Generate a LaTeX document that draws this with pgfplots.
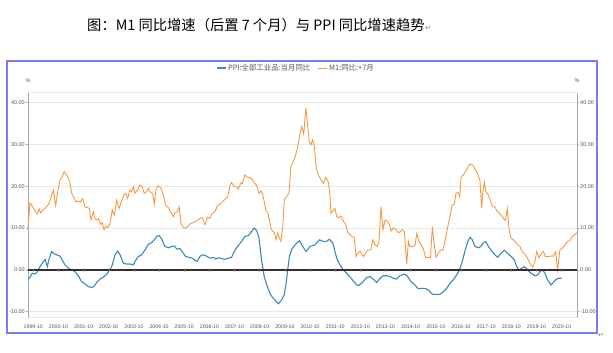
\documentclass[border=0pt]{standalone}
\usepackage{fontspec}
\setmainfont{Liberation Sans}
\newfontfamily\cjk{Noto Sans CJK SC}
\newfontfamily\dejavu{DejaVu Sans}
\usepackage{pgfplots}
\pgfplotsset{compat=1.18}
\definecolor{ppiblue}{HTML}{3A8BBA}
\definecolor{m1orange}{HTML}{F7963C}
\definecolor{framec}{HTML}{7B7BF7}
\definecolor{gridc}{HTML}{E8E8E8}
\definecolor{zeroc}{HTML}{3A2C2C}
\definecolor{labc}{HTML}{585858}
\definecolor{axc}{HTML}{A8A8A8}
\begin{document}
\begin{tikzpicture}
\useasboundingbox (0pt,0pt) rectangle (613pt,353pt);
\fill[white] (0pt,0pt) rectangle (613pt,353pt);
\node[anchor=west, inner sep=0pt, font=\cjk\fontsize{14.3}{16}\selectfont] (title) at (87pt,328pt) {图：M1 同比增速（后置 7 个月）与 PPI 同比增速趋势};
\node[anchor=west, inner sep=0pt, text=gray, font=\dejavu\fontsize{7}{8}\selectfont] at ([yshift=-3pt]title.east) {↵};
\draw[framec, line width=2pt] (7pt,20pt) rectangle (597pt,292pt);
\node[anchor=west, inner sep=0pt, text=gray, font=\dejavu\fontsize{7}{8}\selectfont] at (598pt,18pt) {↵};
\node[inner sep=0pt, text=labc, font=\fontsize{5.5}{6}\selectfont] at (28pt,272pt) {\%};
\node[inner sep=0pt, text=labc, font=\fontsize{5.5}{6}\selectfont] at (577pt,272pt) {\%};
\begin{axis}[
  at={(28pt,35pt)}, anchor=south west,
  width=549pt, height=225pt, scale only axis,
  xmin=1999.54, xmax=2021.36, ymin=-11.5, ymax=42.3,
  separate axis lines,
  x axis line style={draw=gridc, line width=1pt},
  y axis line style={draw=axc, line width=0.8pt},
  ytick={-10,0,10,20,30,40},
  ytick pos=left,
  tick align=outside, major tick length=2pt,
  ytick style={draw=axc, line width=0.5pt},
  xtick style={draw=none},
  /pgf/number format/assume math mode=true,
  yticklabel={\pgfmathprintnumber[fixed,fixed zerofill,precision=2]{\tick}},
  yticklabel style={font=\fontsize{5.5}{6}\selectfont, text=labc, inner sep=1pt},
  xtick={1999.75,2000.75,2001.75,2002.75,2003.75,2004.75,2005.75,2006.75,2007.75,2008.75,2009.75,2010.75,2011.75,2012.75,2013.75,2014.75,2015.75,2016.75,2017.75,2018.75,2019.75,2020.75},
  xticklabels={1999-10,2000-10,2001-10,2002-10,2003-10,2004-10,2005-10,2006-10,2007-10,2008-10,2009-10,2010-10,2011-10,2012-10,2013-10,2014-10,2015-10,2016-10,2017-10,2018-10,2019-10,2020-10},
  xticklabel style={font=\fontsize{5.2}{6}\selectfont, text=labc, inner sep=1pt, yshift=-3.5pt},
  ymajorgrids, major grid style={gridc, line width=1.1pt},
  legend columns=2,
  legend style={at={(0.488,1.111)}, anchor=center, draw=none, fill=none,
    font=\cjk\fontsize{7.4}{8}\selectfont, text=labc, inner sep=0pt,
    /tikz/every even column/.append style={column sep=5pt}},
  legend image code/.code={\draw[#1] (0pt,0pt) -- (9pt,0pt);},
  clip=false,
]
\addplot[ppiblue, line width=1.1pt] coordinates {
(1999.55,-2.2) (1999.62,-1.8) (1999.71,-0.8) (1999.82,-1.0) (1999.92,-0.4) (2000.02,0.8) (2000.11,1.6) (2000.22,2.5) (2000.31,0.8) (2000.37,2.4) (2000.48,4.4) (2000.59,3.8) (2000.68,3.6) (2000.81,3.3) (2000.90,2.4) (2001.01,1.2) (2001.14,0.4) (2001.28,0.0) (2001.41,-0.4) (2001.54,-1.4) (2001.67,-2.8) (2001.81,-3.4) (2001.94,-4.0) (2002.07,-4.2) (2002.16,-4.0) (2002.27,-3.0) (2002.40,-2.2) (2002.53,-1.8) (2002.67,-1.0) (2002.80,0.0) (2002.89,1.2) (2003.00,3.6) (2003.10,4.5) (2003.20,3.6) (2003.33,1.6) (2003.46,1.4) (2003.59,1.4) (2003.73,1.2) (2003.79,2.0) (2003.92,3.2) (2004.06,3.6) (2004.19,4.8) (2004.32,6.1) (2004.45,6.5) (2004.56,7.2) (2004.65,8.0) (2004.75,8.2) (2004.85,7.4) (2004.98,5.6) (2005.12,5.3) (2005.25,5.6) (2005.36,5.7) (2005.45,5.0) (2005.58,5.1) (2005.71,4.0) (2005.81,3.2) (2005.94,3.0) (2006.07,2.8) (2006.15,2.4) (2006.26,2.0) (2006.38,3.3) (2006.51,3.6) (2006.64,3.3) (2006.77,2.8) (2006.91,3.0) (2007.00,2.6) (2007.11,2.9) (2007.21,2.8) (2007.34,2.5) (2007.50,2.8) (2007.63,3.0) (2007.77,4.8) (2007.90,5.8) (2008.03,6.8) (2008.16,8.0) (2008.30,8.2) (2008.43,9.2) (2008.53,10.0) (2008.63,9.4) (2008.72,7.6) (2008.83,2.0) (2008.93,-1.6) (2009.03,-3.6) (2009.12,-5.0) (2009.19,-6.0) (2009.32,-7.0) (2009.49,-8.1) (2009.62,-7.2) (2009.72,-6.0) (2009.80,-3.2) (2009.86,0.0) (2009.93,3.2) (2010.02,4.9) (2010.15,6.0) (2010.33,7.0) (2010.46,5.6) (2010.59,4.4) (2010.75,5.6) (2010.95,6.0) (2011.12,7.2) (2011.28,6.8) (2011.39,6.8) (2011.52,7.3) (2011.65,6.5) (2011.81,2.8) (2011.94,1.2) (2012.07,0.0) (2012.21,-0.8) (2012.41,-2.2) (2012.60,-3.6) (2012.69,-3.7) (2012.83,-3.0) (2013.00,-1.8) (2013.13,-1.6) (2013.26,-2.2) (2013.40,-3.0) (2013.53,-2.0) (2013.66,-1.4) (2013.79,-1.4) (2013.93,-1.6) (2014.06,-2.0) (2014.19,-2.2) (2014.32,-1.4) (2014.50,-1.0) (2014.63,-1.6) (2014.76,-2.8) (2014.92,-3.6) (2015.05,-4.5) (2015.19,-4.4) (2015.32,-4.4) (2015.45,-4.8) (2015.61,-5.8) (2015.78,-5.9) (2015.92,-5.8) (2016.05,-5.2) (2016.18,-4.4) (2016.31,-3.2) (2016.44,-2.4) (2016.58,-1.2) (2016.71,0.4) (2016.80,2.0) (2016.91,4.6) (2017.01,6.6) (2017.11,7.8) (2017.20,7.2) (2017.31,5.6) (2017.44,5.3) (2017.54,5.6) (2017.64,6.5) (2017.73,6.8) (2017.84,5.6) (2017.97,4.5) (2018.10,3.6) (2018.21,3.0) (2018.34,4.0) (2018.47,4.7) (2018.60,4.0) (2018.74,3.2) (2018.87,2.4) (2018.96,0.8) (2019.05,0.0) (2019.16,0.4) (2019.27,0.8) (2019.40,0.0) (2019.53,-0.8) (2019.69,-1.4) (2019.80,-1.2) (2019.89,-0.4) (2019.99,0.0) (2020.09,-0.8) (2020.19,-2.4) (2020.33,-3.6) (2020.42,-3.0) (2020.51,-2.4) (2020.62,-2.0) (2020.75,-2.0)
};
\addlegendentry{PPI:全部工业品:当月同比}
\addplot[m1orange, line width=0.85pt] coordinates {
(1999.54,10.0) (1999.62,16.0) (1999.71,15.2) (1999.82,14.0) (1999.91,13.4) (1999.98,14.6) (2000.04,13.6) (2000.15,14.4) (2000.25,14.9) (2000.37,15.8) (2000.45,17.3) (2000.55,19.1) (2000.64,15.4) (2000.72,18.7) (2000.81,21.5) (2000.90,22.3) (2000.98,23.5) (2001.08,22.7) (2001.18,21.5) (2001.28,18.3) (2001.37,17.1) (2001.45,16.2) (2001.54,16.5) (2001.63,16.2) (2001.71,17.1) (2001.81,15.0) (2001.90,14.9) (2001.98,14.7) (2002.04,11.9) (2002.14,13.9) (2002.20,12.3) (2002.27,11.9) (2002.34,12.3) (2002.43,10.9) (2002.49,11.3) (2002.56,9.6) (2002.63,10.5) (2002.71,10.1) (2002.80,11.1) (2002.89,14.3) (2002.97,13.1) (2003.06,16.7) (2003.16,14.7) (2003.26,16.5) (2003.36,18.1) (2003.43,18.3) (2003.50,17.1) (2003.59,19.1) (2003.66,18.7) (2003.73,19.9) (2003.79,18.3) (2003.89,19.1) (2003.99,20.3) (2004.08,19.9) (2004.16,18.3) (2004.26,18.7) (2004.32,19.5) (2004.41,18.5) (2004.49,18.3) (2004.56,15.7) (2004.63,19.5) (2004.72,20.1) (2004.83,19.5) (2004.92,17.9) (2005.01,15.5) (2005.12,14.9) (2005.21,13.9) (2005.32,12.7) (2005.38,13.7) (2005.47,13.9) (2005.55,15.1) (2005.62,11.1) (2005.71,10.1) (2005.81,10.0) (2005.91,10.5) (2006.00,11.1) (2006.11,11.3) (2006.24,11.7) (2006.38,12.3) (2006.47,12.5) (2006.57,10.8) (2006.68,12.6) (2006.77,12.3) (2006.87,13.6) (2006.97,13.9) (2007.08,15.5) (2007.21,15.9) (2007.34,16.7) (2007.48,17.5) (2007.57,20.3) (2007.63,20.9) (2007.73,19.9) (2007.83,19.9) (2007.90,19.3) (2008.01,20.9) (2008.07,20.7) (2008.16,22.7) (2008.26,22.1) (2008.36,22.1) (2008.46,21.5) (2008.56,20.7) (2008.65,19.9) (2008.72,18.3) (2008.80,18.9) (2008.87,18.1) (2008.93,16.3) (2008.99,14.3) (2009.07,13.7) (2009.13,11.9) (2009.20,10.0) (2009.26,9.2) (2009.33,9.0) (2009.40,7.2) (2009.46,8.8) (2009.53,7.6) (2009.59,6.8) (2009.66,10.0) (2009.73,16.8) (2009.82,17.5) (2009.91,18.3) (2009.99,24.7) (2010.09,25.9) (2010.18,27.5) (2010.26,29.5) (2010.35,32.5) (2010.42,34.3) (2010.50,32.5) (2010.58,38.7) (2010.64,35.5) (2010.72,30.7) (2010.79,29.9) (2010.85,31.1) (2010.92,29.5) (2010.99,24.7) (2011.08,22.7) (2011.19,21.5) (2011.28,20.7) (2011.37,22.1) (2011.48,21.0) (2011.54,17.9) (2011.58,13.5) (2011.68,14.3) (2011.74,14.7) (2011.81,12.7) (2011.90,12.5) (2011.98,12.9) (2012.07,11.7) (2012.17,10.8) (2012.25,9.0) (2012.34,8.4) (2012.43,8.0) (2012.51,7.7) (2012.58,3.2) (2012.64,4.0) (2012.74,4.5) (2012.87,3.2) (2012.96,4.0) (2013.04,4.8) (2013.16,4.7) (2013.24,7.2) (2013.33,6.0) (2013.42,5.6) (2013.49,6.8) (2013.57,15.1) (2013.65,9.6) (2013.73,11.9) (2013.82,11.7) (2013.89,11.1) (2013.97,9.3) (2014.06,10.0) (2014.15,9.7) (2014.26,8.9) (2014.35,9.2) (2014.43,9.6) (2014.50,9.2) (2014.59,1.3) (2014.66,6.8) (2014.72,5.6) (2014.81,5.6) (2014.92,5.8) (2014.99,8.7) (2015.08,6.8) (2015.16,6.0) (2015.25,5.1) (2015.34,3.0) (2015.45,3.0) (2015.54,3.0) (2015.61,10.3) (2015.68,6.4) (2015.76,3.0) (2015.85,4.0) (2015.95,4.8) (2016.03,4.7) (2016.11,6.8) (2016.21,10.0) (2016.31,12.7) (2016.40,15.5) (2016.48,15.7) (2016.55,18.3) (2016.64,18.5) (2016.70,17.5) (2016.75,22.1) (2016.84,22.7) (2016.94,23.7) (2017.04,24.7) (2017.11,25.3) (2017.20,25.1) (2017.28,24.5) (2017.37,23.5) (2017.50,21.5) (2017.57,14.7) (2017.61,18.3) (2017.68,21.0) (2017.74,18.7) (2017.84,17.9) (2017.93,16.3) (2018.01,15.1) (2018.10,15.1) (2018.17,14.1) (2018.26,13.7) (2018.37,12.9) (2018.47,12.1) (2018.52,11.9) (2018.59,14.7) (2018.66,9.6) (2018.74,7.6) (2018.83,7.2) (2018.92,6.6) (2019.00,6.0) (2019.09,5.6) (2019.19,4.3) (2019.29,3.8) (2019.40,2.7) (2019.49,1.6) (2019.60,0.6) (2019.69,2.0) (2019.76,4.4) (2019.85,2.9) (2019.93,3.8) (2020.02,4.4) (2020.11,3.2) (2020.22,3.2) (2020.33,3.3) (2020.42,3.3) (2020.51,4.3) (2020.59,0.0) (2020.68,4.8) (2020.78,5.2) (2020.88,6.0) (2020.98,6.8) (2021.08,7.0) (2021.17,8.0) (2021.28,8.4) (2021.35,8.9)
};
\addlegendentry{M1:同比:+7月}
\draw[zeroc, line width=1.3pt] (axis cs:1999.54,0) -- (axis cs:2021.36,0);
\pgfplotsinvokeforeach{1999.75,2000.75,2001.75,2002.75,2003.75,2004.75,2005.75,2006.75,2007.75,2008.75,2009.75,2010.75,2011.75,2012.75,2013.75,2014.75,2015.75,2016.75,2017.75,2018.75,2019.75,2020.75}{
  \draw[axc, line width=0.5pt] (axis cs:#1,0) -- ++(0pt,-2.5pt);
}
\end{axis}
\begin{axis}[
  at={(28pt,35pt)}, anchor=south west,
  width=549pt, height=225pt, scale only axis,
  xmin=1999.54, xmax=2021.36, ymin=-11.5, ymax=42.3,
  axis x line=none,
  axis y line*=right,
  y axis line style={draw=axc, line width=0.8pt, -},
  ytick={-10,0,10,20,30,40},
  tick align=outside, major tick length=2pt,
  ytick style={draw=axc, line width=0.5pt},
  /pgf/number format/assume math mode=true,
  yticklabel={\pgfmathprintnumber[fixed,fixed zerofill,precision=2]{\tick}},
  yticklabel style={font=\fontsize{5.5}{6}\selectfont, text=labc, inner sep=1pt},
]
\addplot[draw=none] coordinates {(2000,0)};
\end{axis}
\end{tikzpicture}
\end{document}
